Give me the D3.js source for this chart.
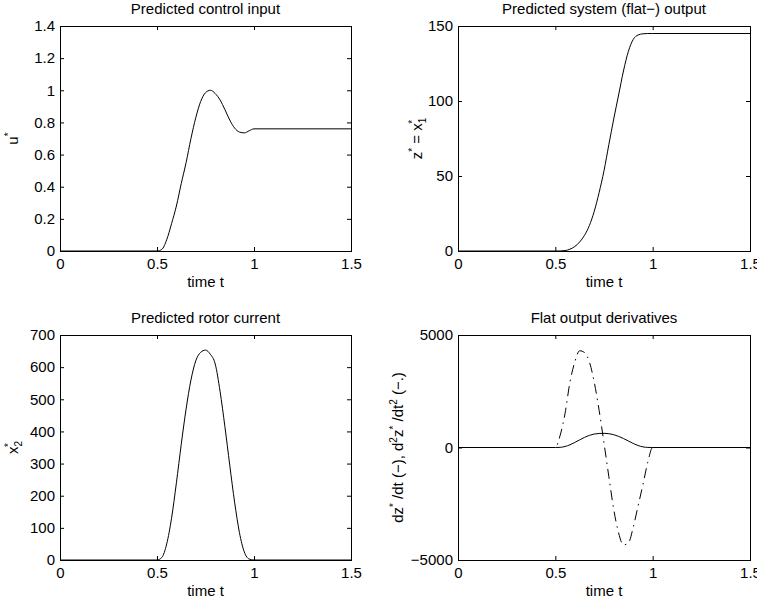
<!DOCTYPE html>
<html>
<head>
<meta charset="utf-8">
<script src="https://cdn.jsdelivr.net/npm/d3@7"></script>
<style>
  body { margin: 0; background: #fff; }
  svg text { font-family: "Liberation Sans", Arial, sans-serif; fill: #000; }
</style>
</head>
<body>
<svg id="chart" width="757" height="605"></svg>
<script>
// time grid shared by every series
const timeT = [0, 0.5, 0.525, 0.55, 0.575, 0.6, 0.625, 0.65, 0.675, 0.7, 0.725, 0.75,
  0.775, 0.8, 0.825, 0.85, 0.875, 0.9, 0.925, 0.95, 0.975, 1.0, 1.5];

// predicted control input u*
const uStar = [0, 0, 0.01, 0.07, 0.17, 0.28, 0.42, 0.55, 0.70, 0.83, 0.93, 0.985,
  1.0, 0.98, 0.94, 0.88, 0.815, 0.765, 0.74, 0.735, 0.748, 0.76, 0.76];

// flat output z* = x1*
const zStar = [0, 0, 0.05, 0.3, 1.2, 3, 6, 10.5, 17, 26.5, 39, 53.5,
  71, 88, 104, 120, 133, 141, 144, 144.8, 145, 145, 145];

// rotor current x2*
const x2Star = [0, 0, 8, 50, 130, 240, 360, 470, 560, 620, 646, 653,
  640, 610, 525, 415, 295, 180, 85, 25, 3, 0, 0];

// dz*/dt and d2z*/dt2
const dzStar = [0, 0, 7, 45, 120, 225, 340, 450, 540, 598, 624, 630,
  614, 570, 495, 400, 290, 180, 88, 28, 4, 0, 0];
const d2zStar = [0, 0, 550, 1520, 2900, 3800, 4300, 4220, 3800, 2900, 1650, 200,
  -1300, -2750, -3800, -4330, -4250, -3550, -2600, -1650, -650, 0, 0];

// tick values
const timeTicks = [0, 0.5, 1, 1.5];
const uTicks = [0, 0.2, 0.4, 0.6, 0.8, 1, 1.2, 1.4];
const zTicks = [0, 50, 100, 150];
const x2Ticks = [0, 100, 200, 300, 400, 500, 600, 700];
const derivTicks = [-5000, 0, 5000];

const svg = d3.select("#chart");
const fontSize = 15;
const fmt = d => (d < 0 ? "\u2212" + Math.abs(d) : String(d));

const panels = [
  { left: 60, right: 351, top: 26, bottom: 251, yDomain: [0, 1.4], yTicks: uTicks,
    title: "Predicted control input", labelX: 18,
    label: [["u", 0], ["*", -6, 10]],
    series: [{ values: uStar }] },
  { left: 458, right: 750, top: 26, bottom: 251, yDomain: [0, 150], yTicks: zTicks,
    title: "Predicted system (flat\u2212) output", labelX: 422,
    label: [["z", 0], ["*", -6, 10], [" = x", 0], ["1", 4, 10], ["*", -6, 10, -6]],
    series: [{ values: zStar }] },
  { left: 60, right: 351, top: 335, bottom: 560, yDomain: [0, 700], yTicks: x2Ticks,
    title: "Predicted rotor current", labelX: 18,
    label: [["x", 0], ["2", 4, 10], ["*", -6, 10, -6]],
    series: [{ values: x2Star }] },
  { left: 458, right: 750, top: 335, bottom: 560, yDomain: [-5000, 5000], yTicks: derivTicks,
    title: "Flat output derivatives", labelX: 403,
    label: [["dz", 0], ["*", -6, 10], [" /dt (\u2212), d", 0], ["2", -6, 10], ["z", 0], ["*", -6, 10],
      [" /dt", 0], ["2", -6, 10], [" (\u2212.)", 0]],
    series: [{ values: dzStar }, { values: d2zStar, dash: "10,5,1.5,5" }] }
];

panels.forEach(p => {
  const x = d3.scaleLinear([0, 1.5], [p.left, p.right]);
  const y = d3.scaleLinear(p.yDomain, [p.bottom, p.top]);
  const g = svg.append("g");

  // bottom axis with labels, ticks pointing in
  g.append("g")
    .attr("transform", `translate(0,${p.bottom})`)
    .call(d3.axisBottom(x).tickValues(timeTicks).tickSizeInner(-4).tickSizeOuter(0)
      .tickPadding(7).tickFormat(fmt))
    .call(a => a.select(".domain").remove())
    .attr("font-size", fontSize);
  // top mirror ticks
  g.append("g")
    .attr("transform", `translate(0,${p.top})`)
    .call(d3.axisTop(x).tickValues(timeTicks).tickSizeInner(-4).tickSizeOuter(0).tickFormat(""))
    .call(a => a.select(".domain").remove());
  // left axis
  g.append("g")
    .attr("transform", `translate(${p.left},0)`)
    .call(d3.axisLeft(y).tickValues(p.yTicks).tickSizeInner(-4).tickSizeOuter(0)
      .tickPadding(5).tickFormat(fmt))
    .call(a => a.select(".domain").remove())
    .attr("font-size", fontSize);
  // right mirror ticks
  g.append("g")
    .attr("transform", `translate(${p.right},0)`)
    .call(d3.axisRight(y).tickValues(p.yTicks).tickSizeInner(-4).tickSizeOuter(0).tickFormat(""))
    .call(a => a.select(".domain").remove());

  // lines
  const line = d3.line()
    .x((d, i) => x(timeT[i]))
    .y(d => y(d))
    .curve(d3.curveMonotoneX);
  p.series.forEach(s => {
    g.append("path")
      .attr("d", line(s.values))
      .attr("fill", "none")
      .attr("stroke", "#000")
      .attr("stroke-width", 1)
      .attr("stroke-dasharray", s.dash || null);
  });

  // box
  g.append("rect")
    .attr("x", p.left + 0.5)
    .attr("y", p.top + 0.5)
    .attr("width", p.right - p.left)
    .attr("height", p.bottom - p.top)
    .attr("fill", "none")
    .attr("stroke", "#000")
    .attr("stroke-width", 1);

  // title
  g.append("text")
    .attr("x", (p.left + p.right) / 2)
    .attr("y", p.top - 12)
    .attr("text-anchor", "middle")
    .attr("font-size", fontSize)
    .text(p.title);

  // x label
  g.append("text")
    .attr("x", (p.left + p.right) / 2)
    .attr("y", p.bottom + 36)
    .attr("text-anchor", "middle")
    .attr("font-size", fontSize)
    .text("time t");

  // y label with super/subscripts
  const yl = g.append("text")
    .attr("transform", `translate(${p.labelX},${(p.top + p.bottom) / 2}) rotate(-90)`)
    .attr("text-anchor", "middle")
    .attr("font-size", fontSize);
  let shift = 0;
  p.label.forEach(([txt, off, size, dx]) => {
    yl.append("tspan")
      .attr("dy", off - shift)
      .attr("dx", dx || null)
      .attr("font-size", size || fontSize)
      .text(txt);
    shift = off;
  });
});
</script>
</body>
</html>
